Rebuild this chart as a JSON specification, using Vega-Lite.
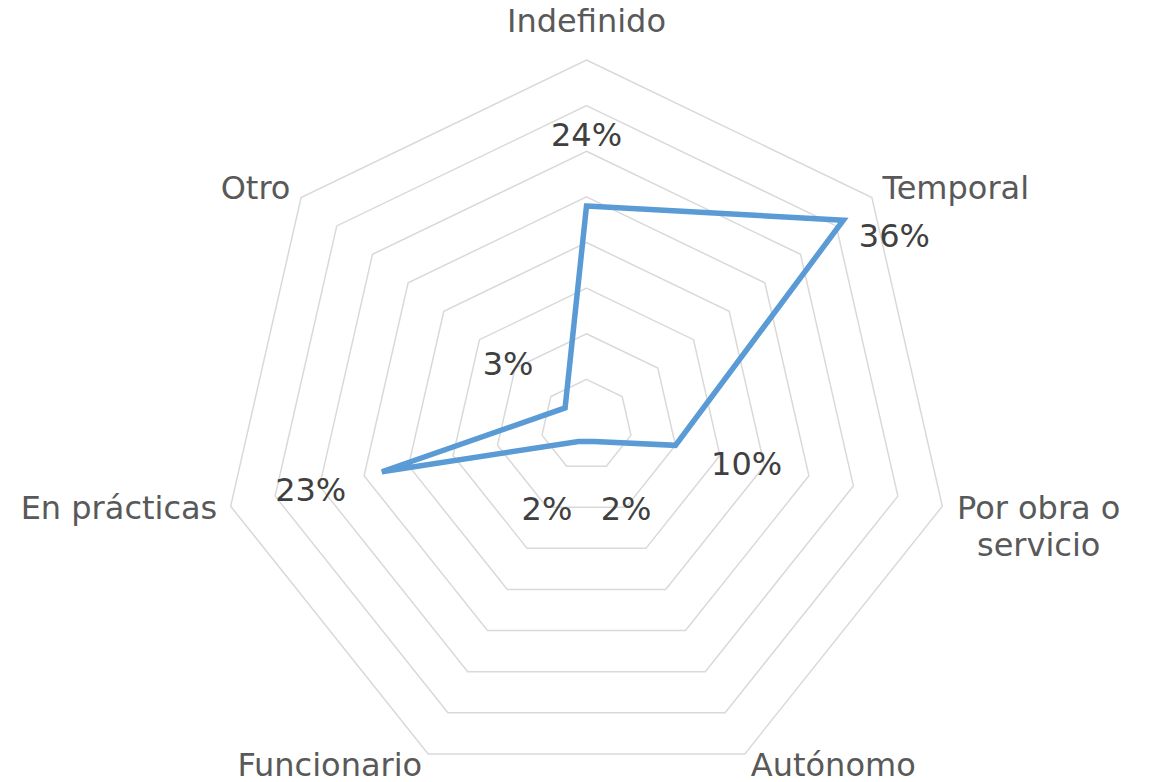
{
  "$schema": "https://vega.github.io/schema/vega-lite/v6.json",
  "width": 1153,
  "height": 782,
  "autosize": "none",
  "padding": 0,
  "background": "white",
  "config": {"view": {"stroke": null}},
  "datasets": {
    "series": [
      {"cat": "Indefinido", "k": 0, "value": 24},
      {"cat": "Temporal", "k": 1, "value": 36},
      {"cat": "Por obra o servicio", "k": 2, "value": 10},
      {"cat": "Autónomo", "k": 3, "value": 2},
      {"cat": "Funcionario", "k": 4, "value": 2},
      {"cat": "En prácticas", "k": 5, "value": 23},
      {"cat": "Otro", "k": 6, "value": 3}
    ],
    "grid": [
      {"lvl": 5, "k": [0, 1, 2, 3, 4, 5, 6]},
      {"lvl": 10, "k": [0, 1, 2, 3, 4, 5, 6]},
      {"lvl": 15, "k": [0, 1, 2, 3, 4, 5, 6]},
      {"lvl": 20, "k": [0, 1, 2, 3, 4, 5, 6]},
      {"lvl": 25, "k": [0, 1, 2, 3, 4, 5, 6]},
      {"lvl": 30, "k": [0, 1, 2, 3, 4, 5, 6]},
      {"lvl": 35, "k": [0, 1, 2, 3, 4, 5, 6]},
      {"lvl": 40, "k": [0, 1, 2, 3, 4, 5, 6]}
    ]
  },
  "encoding": {
    "x": {"field": "x", "type": "quantitative", "scale": {"domain": [-64.27, 62.08], "nice": false, "zero": false}, "axis": null},
    "y": {"field": "y", "type": "quantitative", "scale": {"domain": [-39.12, 46.58], "nice": false, "zero": false}, "axis": null}
  },
  "layer": [
    {
      "data": {"name": "grid"},
      "transform": [
        {"flatten": ["k"]},
        {"calculate": "datum.k*2*PI/7", "as": "a"},
        {"calculate": "datum.lvl*sin(datum.a)", "as": "x"},
        {"calculate": "datum.lvl*cos(datum.a)", "as": "y"}
      ],
      "mark": {"type": "line", "interpolate": "linear-closed", "stroke": "#D9D9D9", "strokeWidth": 1.5},
      "encoding": {
        "detail": {"field": "lvl", "type": "nominal"},
        "order": {"field": "k", "type": "quantitative"}
      }
    },
    {
      "data": {"name": "series"},
      "transform": [
        {"calculate": "datum.k*2*PI/7", "as": "a"},
        {"calculate": "datum.value*sin(datum.a)", "as": "x"},
        {"calculate": "datum.value*cos(datum.a)", "as": "y"}
      ],
      "mark": {"type": "line", "interpolate": "linear-closed", "stroke": "#5B9BD5", "strokeWidth": 5.5, "strokeJoin": "miter"},
      "encoding": {
        "order": {"field": "k", "type": "quantitative"}
      }
    },
    {
      "data": {"name": "series"},
      "transform": [
        {"calculate": "datum.k*2*PI/7", "as": "a"},
        {"calculate": "datum.k==0 ? 44.2 : 41.5", "as": "r"},
        {"calculate": "datum.r*sin(datum.a)", "as": "x"},
        {"calculate": "datum.r*cos(datum.a)", "as": "y"},
        {"calculate": "replace(datum.cat, 'obra o ', 'obra o\\n')", "as": "lbl"}
      ],
      "mark": {
        "type": "text",
        "font": "DejaVu Sans",
        "fontSize": 32,
        "color": "#595959",
        "baseline": "middle",
        "lineBreak": "\n",
        "lineHeight": 37,
        "align": {"expr": "(datum.k==0 || datum.k==2) ? 'center' : (datum.k < 4 ? 'left' : 'right')"},
        "dx": {"expr": "datum.k==2 ? 83 : 0"}
      },
      "encoding": {
        "text": {"field": "lbl", "type": "nominal"}
      }
    },
    {
      "data": {"name": "series"},
      "transform": [
        {"filter": "datum.k != 1"},
        {"calculate": "datum.k*2*PI/7", "as": "a"},
        {"calculate": "datum.value + 8", "as": "r"},
        {"calculate": "datum.r*sin(datum.a)", "as": "x"},
        {"calculate": "datum.r*cos(datum.a)", "as": "y"},
        {"calculate": "datum.value + '%'", "as": "lbl"}
      ],
      "mark": {"type": "text", "font": "DejaVu Sans", "fontSize": 32, "color": "#404040", "baseline": "middle", "align": "center", "dy": 3},
      "encoding": {
        "text": {"field": "lbl", "type": "nominal"}
      }
    },
    {
      "data": {"name": "series"},
      "transform": [
        {"filter": "datum.k == 1"},
        {"calculate": "datum.k*2*PI/7", "as": "a"},
        {"calculate": "datum.value*sin(datum.a)", "as": "x"},
        {"calculate": "datum.value*cos(datum.a)", "as": "y"},
        {"calculate": "datum.value + '%'", "as": "lbl"}
      ],
      "mark": {"type": "text", "font": "DejaVu Sans", "fontSize": 32, "color": "#404040", "baseline": "middle", "align": "center", "dx": 51, "dy": 17},
      "encoding": {
        "text": {"field": "lbl", "type": "nominal"}
      }
    }
  ]
}
